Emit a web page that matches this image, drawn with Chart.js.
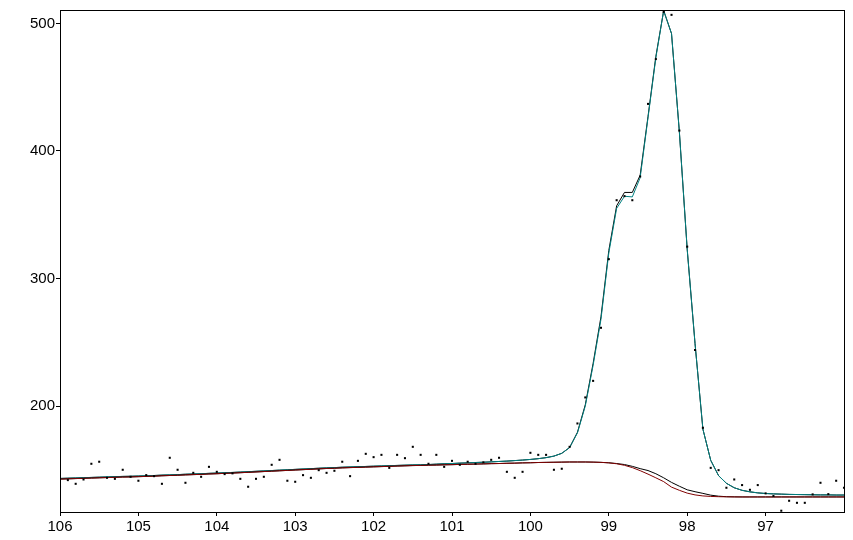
<!DOCTYPE html>
<html>
<head>
<meta charset="utf-8">
<script src="https://cdn.jsdelivr.net/npm/chart.js@4/dist/chart.umd.min.js"></script>
<style>
  html, body { margin: 0; padding: 0; background: #fff; }
  #wrap { width: 853px; height: 540px; }
</style>
</head>
<body>
<div id="wrap"><canvas id="espectro" width="853" height="540"></canvas></div>
<script>
// energia de enlace (eje x invertido, 106 -> 96)
const energia = [
  106.0, 105.9, 105.8, 105.7, 105.6, 105.5, 105.4, 105.3, 105.2, 105.1,
  105.0, 104.9, 104.8, 104.7, 104.6, 104.5, 104.4, 104.3, 104.2, 104.1,
  104.0, 103.9, 103.8, 103.7, 103.6, 103.5, 103.4, 103.3, 103.2, 103.1,
  103.0, 102.9, 102.8, 102.7, 102.6, 102.5, 102.4, 102.3, 102.2, 102.1,
  102.0, 101.9, 101.8, 101.7, 101.6, 101.5, 101.4, 101.3, 101.2, 101.1,
  101.0, 100.9, 100.8, 100.7, 100.6, 100.5, 100.4, 100.3, 100.2, 100.1,
  100.0, 99.9, 99.8, 99.7, 99.6, 99.5, 99.4, 99.3, 99.2, 99.1,
  99.0, 98.9, 98.8, 98.7, 98.6, 98.5, 98.4, 98.3, 98.2, 98.1,
  98.0, 97.9, 97.8, 97.7, 97.6, 97.5, 97.4, 97.3, 97.2, 97.1,
  97.0, 96.9, 96.8, 96.7, 96.6, 96.5, 96.4, 96.3, 96.2, 96.1,
  96.0
];

// cuentas medidas (puntos)
const medidos = [
  136.8, 142.0, 139.1, 142.5, 154.8, 156.4, 143.8, 143.0, 150.1, 144.6,
  141.5, 145.9, 145.1, 139.1, 159.5, 150.1, 139.9, 147.7, 144.6, 152.4,
  148.5, 146.7, 147.3, 143.0, 136.8, 143.0, 144.6, 154.0, 157.9, 141.5,
  140.7, 145.9, 143.8, 149.8, 147.7, 149.3, 156.4, 145.1, 157.1, 162.6,
  160.0, 161.8, 151.6, 161.8, 159.2, 168.1, 161.8, 154.8, 161.8, 152.4,
  157.1, 154.0, 156.4, 154.8, 155.9, 157.9, 159.5, 148.5, 143.8, 148.5,
  163.4, 161.8, 161.8, 150.1, 150.9, 168.1, 186.4, 206.8, 219.8, 261.4,
  315.2, 361.4, 364.6, 361.4, 380.0, 436.9, 472.0, 509.0, 506.7, 416.0,
  325.0, 244.0, 183.0, 151.6, 149.8, 136.0, 142.5, 138.1, 134.4, 138.1,
  131.6, 129.5, 118.0, 125.8, 124.2, 124.2, 130.8, 139.9, 131.0, 141.5,
  136.0
];

// ajuste (suma de componentes + fondo)
const ajuste = [
  143.3, 143.5, 143.7, 143.9, 144.1, 144.3, 144.5, 144.7, 144.9, 145.0,
  145.2, 145.4, 145.6, 145.9, 146.1, 146.3, 146.6, 146.8, 147.0, 147.3,
  147.5, 147.8, 148.0, 148.3, 148.6, 148.9, 149.2, 149.5, 149.8, 150.1,
  150.4, 150.7, 151.0, 151.3, 151.6, 151.8, 152.1, 152.3, 152.5, 152.7,
  152.9, 153.1, 153.3, 153.5, 153.7, 153.9, 154.0, 154.2, 154.5, 154.8,
  155.0, 155.3, 155.5, 155.8, 156.0, 156.3, 156.6, 156.9, 157.3, 157.7,
  158.2, 158.8, 159.6, 160.8, 163.0, 167.5, 179.0, 200.0, 232.0, 268.0,
  320.0, 355.0, 364.5, 364.0, 379.0, 426.0, 473.0, 510.0, 492.0, 415.0,
  323.0, 249.0, 182.0, 157.5, 145.5, 139.5, 136.0, 134.0, 132.8, 132.0,
  131.5, 131.2, 131.0, 130.8, 130.7, 130.6, 130.5, 130.4, 130.4, 130.3,
  130.3
];

// envolvente (negro)
const envolvente = [
  143.3, 143.5, 143.7, 143.9, 144.1, 144.3, 144.5, 144.7, 144.9, 145.0,
  145.2, 145.4, 145.6, 145.9, 146.1, 146.3, 146.6, 146.8, 147.0, 147.3,
  147.5, 147.8, 148.0, 148.3, 148.6, 148.9, 149.2, 149.5, 149.8, 150.1,
  150.4, 150.7, 151.0, 151.3, 151.6, 151.8, 152.1, 152.3, 152.5, 152.7,
  152.9, 153.1, 153.3, 153.5, 153.7, 153.9, 154.0, 154.2, 154.5, 154.8,
  155.0, 155.3, 155.5, 155.8, 156.0, 156.3, 156.6, 156.9, 157.3, 157.7,
  158.2, 158.8, 159.6, 160.8, 163.0, 167.5, 179.5, 201.0, 233.5, 270.0,
  322.0, 357.0, 367.5, 367.5, 381.0, 427.0, 474.0, 510.0, 492.0, 415.0,
  323.0, 249.0, 182.0, 157.5, 145.5, 139.5, 136.0, 134.0, 132.8, 132.0,
  131.5, 131.2, 131.0, 130.8, 130.7, 130.6, 130.5, 130.4, 130.4, 130.3,
  130.3
];

// fondo (rojo)
const fondo = [
  142.8, 143.0, 143.2, 143.4, 143.6, 143.8, 144.0, 144.2, 144.4, 144.5,
  144.7, 144.9, 145.1, 145.4, 145.6, 145.8, 146.1, 146.3, 146.5, 146.8,
  147.0, 147.3, 147.5, 147.8, 148.1, 148.4, 148.7, 149.0, 149.3, 149.6,
  149.9, 150.2, 150.5, 150.8, 151.1, 151.3, 151.6, 151.8, 152.0, 152.2,
  152.4, 152.6, 152.8, 153.0, 153.2, 153.4, 153.5, 153.7, 153.8, 154.0,
  154.1, 154.3, 154.4, 154.6, 154.7, 154.9, 155.0, 155.2, 155.3, 155.5,
  155.6, 155.8, 155.9, 156.0, 156.1, 156.2, 156.2, 156.2, 156.1, 155.9,
  155.5, 154.8, 153.6, 151.8, 149.4, 146.7, 143.8, 140.8, 136.5, 134.0,
  131.8, 130.4, 129.6, 129.2, 129.0, 128.9, 128.8, 128.8, 128.8, 128.8,
  128.8, 128.8, 128.8, 128.8, 128.8, 128.8, 128.8, 128.8, 128.8, 128.8,
  128.8
];

// fondo + componente pequeña (negro)
const fondoComp = [
  142.8, 143.0, 143.2, 143.4, 143.6, 143.8, 144.0, 144.2, 144.4, 144.5,
  144.7, 144.9, 145.1, 145.4, 145.6, 145.8, 146.1, 146.3, 146.5, 146.8,
  147.0, 147.3, 147.5, 147.8, 148.1, 148.4, 148.7, 149.0, 149.3, 149.6,
  149.9, 150.2, 150.5, 150.8, 151.1, 151.3, 151.6, 151.8, 152.0, 152.2,
  152.4, 152.6, 152.8, 153.0, 153.2, 153.4, 153.5, 153.7, 153.8, 154.0,
  154.1, 154.3, 154.4, 154.6, 154.7, 154.9, 155.0, 155.2, 155.3, 155.5,
  155.6, 155.8, 155.9, 156.0, 156.1, 156.2, 156.2, 156.2, 156.1, 155.9,
  155.6, 155.0, 154.2, 152.8, 151.0, 149.5, 147.0, 143.8, 140.2, 137.2,
  134.4, 132.9, 131.6, 130.2, 129.4, 129.0, 128.9, 128.8, 128.8, 128.8,
  128.8, 128.8, 128.8, 128.8, 128.8, 128.8, 128.8, 128.8, 128.8, 128.8,
  128.8
];

const ticksX = [106, 105, 104, 103, 102, 101, 100, 99, 98, 97];
const ticksY = [200, 300, 400, 500];

const puntos = (serie) => energia.map((e, i) => ({ x: e, y: serie[i] }));

// marco completo alrededor del area del grafico
const marco = {
  id: 'marco',
  afterDraw(chart) {
    const a = chart.chartArea;
    const ctx = chart.ctx;
    ctx.save();
    ctx.strokeStyle = '#000';
    ctx.lineWidth = 1;
    ctx.strokeRect(Math.round(a.left) + 0.5, Math.round(a.top) + 0.5,
      Math.round(a.right - a.left), Math.round(a.bottom - a.top));
    ctx.restore();
  }
};

const linea = (label, serie, color, orden) => ({
  label: label,
  data: puntos(serie),
  borderColor: color,
  borderWidth: 1,
  pointRadius: 0,
  fill: false,
  tension: 0,
  order: orden
});

let chartXPS = new Chart(document.getElementById('espectro').getContext('2d'), {
  type: 'line',
  data: {
    datasets: [
      {
        label: 'Medidos',
        data: puntos(medidos),
        showLine: false,
        pointStyle: 'rect',
        pointRadius: 1.45,
        pointBorderWidth: 0,
        pointBackgroundColor: '#000',
        order: 0
      },
      linea('Fondo', fondo, 'rgb(128, 0, 0)', 1),
      linea('Fondo + comp', fondoComp, '#000', 2),
      linea('Ajuste', ajuste, 'rgb(0, 128, 128)', 3),
      linea('Envolvente', envolvente, '#000', 4)
    ]
  },
  options: {
    responsive: false,
    animation: false,
    layout: { padding: { left: 0, right: 9, top: 10, bottom: 0 } },
    plugins: {
      legend: { display: false },
      tooltip: { enabled: false },
      title: { display: false }
    },
    scales: {
      x: {
        type: 'linear',
        reverse: true,
        min: 96,
        max: 106,
        afterBuildTicks: (scale) => { scale.ticks = ticksX.map(v => ({ value: v })); },
        afterFit: (scale) => { scale.height = 28; },
        grid: { drawOnChartArea: false, drawTicks: true, tickLength: 4, color: '#000' },
        border: { color: '#000', width: 1 },
        ticks: {
          color: '#000',
          padding: 2,
          maxRotation: 0,
          autoSkip: false,
          font: { family: 'Liberation Sans, Arial, sans-serif', size: 15 }
        }
      },
      y: {
        min: 117,
        max: 510.5,
        afterBuildTicks: (scale) => { scale.ticks = ticksY.map(v => ({ value: v })); },
        afterFit: (scale) => { scale.width = 60; },
        grid: { drawOnChartArea: false, drawTicks: true, tickLength: 4, color: '#000' },
        border: { color: '#000', width: 1 },
        ticks: {
          color: '#000',
          padding: 1,
          font: { family: 'Liberation Sans, Arial, sans-serif', size: 15 }
        }
      }
    }
  },
  plugins: [marco]
});
</script>
</body>
</html>
